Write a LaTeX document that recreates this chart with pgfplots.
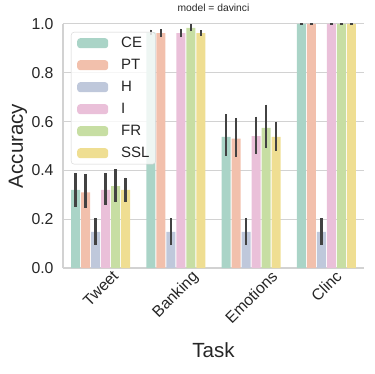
\documentclass[border=0pt]{standalone}
\usepackage{fontspec}
\setmainfont{Liberation Sans}
\usepackage{pgfplots}
\pgfplotsset{compat=1.18}

\definecolor{ce}{HTML}{AAD4C7}
\definecolor{pt}{HTML}{F2C0AC}
\definecolor{hh}{HTML}{BFC8DB}
\definecolor{ii}{HTML}{EAC0D9}
\definecolor{fr}{HTML}{C7DEA3}
\definecolor{ssl}{HTML}{EFDE92}
\definecolor{txt}{HTML}{262626}
\definecolor{grd}{HTML}{D2D2D2}
\definecolor{errc}{HTML}{424242}

\begin{document}
\begin{tikzpicture}
\useasboundingbox (-63pt,-106pt) rectangle (311pt,268pt);
\begin{axis}[
  scale only axis,
  width=301pt, height=244pt,
  xmin=-0.5, xmax=3.5, ymin=0, ymax=1.0,
  clip=false,
  axis x line=bottom, axis y line=left,
  x axis line style={-, grd, line width=1.2pt},
  y axis line style={-, grd, line width=1.2pt},
  major tick length=0pt,
  ymajorgrids, grid style={grd, line width=1pt},
  ytick={0,0.2,0.4,0.6,0.8,1.0},
  yticklabel style={/pgf/number format/fixed, /pgf/number format/fixed zerofill,
    /pgf/number format/precision=1, xshift=-6pt},
  /pgf/number format/assume math mode=true,
  xtick={0,1,2,3},
  xticklabels={\rotatebox{45}{Tweet},\rotatebox{45}{Banking},\rotatebox{45}{Emotions},\rotatebox{45}{Clinc}},
  xticklabel style={anchor=north, yshift=2pt},
  tick label style={font=\fontsize{15.8}{19}\selectfont, text=txt},
  xlabel={Task}, ylabel={Accuracy},
  label style={font=\fontsize{20.5}{24}\selectfont, text=txt},
  xlabel style={at={(axis description cs:0.5,0)}, anchor=base, yshift=-89pt},
  ylabel style={at={([xshift=-45pt]axis description cs:0,0.5)}, anchor=center},
  title={model = davinci},
  title style={font=\fontsize{10.3}{12}\selectfont, text=txt, at={(axis description cs:0.5,1)}, anchor=base, yshift=6pt},
  ybar=0.8pt, bar width=9.2pt,
  legend style={at={(0,1)}, anchor=north west, xshift=8pt, yshift=-8pt,
    font=\fontsize{15}{18}\selectfont, text=txt,
    draw=grd, fill=white, fill opacity=0.8, text opacity=1, draw opacity=1,
    rounded corners=3pt, inner xsep=6pt, inner ysep=4pt,
    row sep=8pt, column sep=13pt,
    nodes={inner sep=0pt, text height=11pt, text depth=3pt}},
  legend cell align=left,
  legend image code/.code={\fill[#1, draw=none, fill opacity=1] (0pt,-5pt) rectangle (31pt,5pt);},
  every axis plot/.append style={draw=none,
    error bars/y dir=both, error bars/y explicit,
    error bars/error mark=none,
    error bars/error bar style={line width=2.6pt, color=errc, solid}},
]
\addplot[fill=ce] coordinates {
  (0,0.320) += (0,0.070) -= (0,0.070)
  (1,0.965) += (0,0.012) -= (0,0.012)
  (2,0.537) += (0,0.093) -= (0,0.077)
  (3,1.000) += (0,0.003) -= (0,0.003)};
\addplot[fill=pt] coordinates {
  (0,0.310) += (0,0.075) -= (0,0.065)
  (1,0.963) += (0,0.015) -= (0,0.015)
  (2,0.530) += (0,0.085) -= (0,0.075)
  (3,1.000) += (0,0.003) -= (0,0.003)};
\addplot[fill=hh] coordinates {
  (0,0.148) += (0,0.057) -= (0,0.054)
  (1,0.148) += (0,0.057) -= (0,0.054)
  (2,0.148) += (0,0.057) -= (0,0.054)
  (3,0.148) += (0,0.057) -= (0,0.054)};
\addplot[fill=ii] coordinates {
  (0,0.320) += (0,0.070) -= (0,0.060)
  (1,0.963) += (0,0.018) -= (0,0.017)
  (2,0.540) += (0,0.080) -= (0,0.073)
  (3,1.000) += (0,0.003) -= (0,0.003)};
\addplot[fill=fr] coordinates {
  (0,0.336) += (0,0.069) -= (0,0.066)
  (1,0.984) += (0,0.016) -= (0,0.013)
  (2,0.574) += (0,0.096) -= (0,0.084)
  (3,1.000) += (0,0.003) -= (0,0.003)};
\addplot[fill=ssl] coordinates {
  (0,0.320) += (0,0.050) -= (0,0.050)
  (1,0.963) += (0,0.012) -= (0,0.012)
  (2,0.537) += (0,0.063) -= (0,0.057)
  (3,1.000) += (0,0.003) -= (0,0.003)};
\legend{CE,PT,H,I,FR,SSL}
\end{axis}
\end{tikzpicture}
\end{document}
